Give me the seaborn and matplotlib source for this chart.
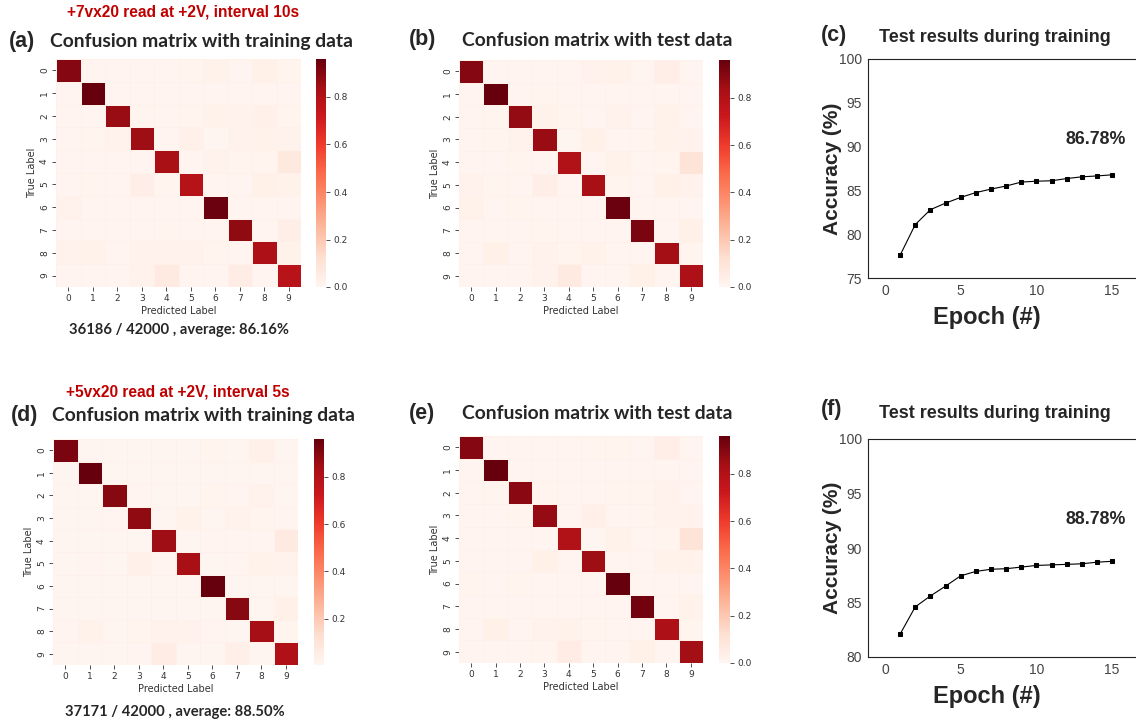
import numpy as np
import pandas as pd
import matplotlib
matplotlib.use("Agg")
import matplotlib.pyplot as plt
import seaborn as sns
from matplotlib.ticker import MultipleLocator

# ---------------- data ----------------
labels = [str(i) for i in range(10)]

# (a) confusion matrix, training data, +7vx20
cm_a = [
    [0.90, 0.005, 0.005, 0.005, 0.005, 0.010, 0.020, 0.005, 0.030, 0.010],
    [0.005, 0.96, 0.005, 0.005, 0.005, 0.005, 0.005, 0.005, 0.005, 0.005],
    [0.005, 0.005, 0.86, 0.010, 0.005, 0.010, 0.020, 0.015, 0.025, 0.010],
    [0.005, 0.010, 0.015, 0.85, 0.005, 0.025, 0.000, 0.015, 0.020, 0.015],
    [0.005, 0.005, 0.005, 0.005, 0.83, 0.005, 0.015, 0.010, 0.010, 0.070],
    [0.005, 0.010, 0.005, 0.040, 0.010, 0.79, 0.005, 0.005, 0.030, 0.020],
    [0.015, 0.005, 0.005, 0.005, 0.005, 0.005, 0.95, 0.005, 0.005, 0.005],
    [0.005, 0.005, 0.005, 0.005, 0.010, 0.005, 0.005, 0.88, 0.005, 0.040],
    [0.015, 0.020, 0.005, 0.015, 0.015, 0.015, 0.010, 0.005, 0.81, 0.020],
    [0.005, 0.005, 0.005, 0.015, 0.060, 0.005, 0.005, 0.050, 0.005, 0.78],
]
# (b) confusion matrix, test data, +7vx20
cm_b = [
    [0.90, 0.005, 0.005, 0.005, 0.005, 0.015, 0.020, 0.005, 0.040, 0.005],
    [0.005, 0.96, 0.005, 0.010, 0.005, 0.005, 0.005, 0.005, 0.005, 0.005],
    [0.005, 0.010, 0.87, 0.020, 0.010, 0.005, 0.015, 0.005, 0.020, 0.005],
    [0.005, 0.010, 0.015, 0.86, 0.000, 0.030, 0.005, 0.010, 0.020, 0.015],
    [0.005, 0.005, 0.010, 0.005, 0.80, 0.005, 0.020, 0.005, 0.010, 0.100],
    [0.015, 0.010, 0.005, 0.040, 0.005, 0.83, 0.010, 0.005, 0.030, 0.015],
    [0.020, 0.005, 0.010, 0.005, 0.005, 0.005, 0.95, 0.005, 0.005, 0.005],
    [0.005, 0.005, 0.005, 0.010, 0.005, 0.005, 0.005, 0.92, 0.005, 0.030],
    [0.005, 0.030, 0.005, 0.015, 0.010, 0.020, 0.005, 0.005, 0.84, 0.010],
    [0.005, 0.005, 0.005, 0.015, 0.060, 0.005, 0.005, 0.030, 0.005, 0.81],
]
# (d) confusion matrix, training data, +5vx20
cm_d = [
    [0.92, 0.005, 0.005, 0.005, 0.005, 0.005, 0.015, 0.005, 0.030, 0.005],
    [0.005, 0.96, 0.005, 0.005, 0.005, 0.005, 0.005, 0.005, 0.005, 0.005],
    [0.005, 0.005, 0.90, 0.010, 0.005, 0.005, 0.015, 0.010, 0.020, 0.005],
    [0.005, 0.005, 0.010, 0.88, 0.005, 0.025, 0.004, 0.020, 0.015, 0.010],
    [0.005, 0.005, 0.005, 0.005, 0.85, 0.005, 0.010, 0.010, 0.010, 0.070],
    [0.005, 0.010, 0.005, 0.030, 0.010, 0.83, 0.005, 0.010, 0.025, 0.020],
    [0.005, 0.005, 0.005, 0.005, 0.005, 0.005, 0.96, 0.005, 0.005, 0.005],
    [0.005, 0.005, 0.005, 0.005, 0.005, 0.005, 0.005, 0.90, 0.005, 0.035],
    [0.010, 0.025, 0.005, 0.015, 0.020, 0.020, 0.010, 0.005, 0.84, 0.015],
    [0.005, 0.005, 0.005, 0.010, 0.050, 0.005, 0.005, 0.040, 0.005, 0.81],
]
# (e) confusion matrix, test data, +5vx20
cm_e = [
    [0.90, 0.005, 0.005, 0.005, 0.005, 0.010, 0.010, 0.005, 0.040, 0.005],
    [0.005, 0.96, 0.005, 0.005, 0.005, 0.005, 0.005, 0.005, 0.005, 0.005],
    [0.005, 0.010, 0.89, 0.010, 0.005, 0.005, 0.010, 0.010, 0.015, 0.005],
    [0.005, 0.005, 0.010, 0.87, 0.005, 0.035, 0.005, 0.010, 0.015, 0.015],
    [0.005, 0.005, 0.005, 0.005, 0.80, 0.000, 0.020, 0.005, 0.010, 0.100],
    [0.005, 0.005, 0.005, 0.030, 0.005, 0.85, 0.005, 0.005, 0.020, 0.020],
    [0.010, 0.005, 0.010, 0.005, 0.005, 0.005, 0.96, 0.005, 0.005, 0.005],
    [0.005, 0.005, 0.005, 0.005, 0.005, 0.005, 0.005, 0.94, 0.005, 0.020],
    [0.005, 0.030, 0.005, 0.015, 0.020, 0.010, 0.005, 0.005, 0.81, 0.010],
    [0.005, 0.005, 0.005, 0.010, 0.045, 0.005, 0.005, 0.030, 0.005, 0.84],
]

epochs = list(range(1, 16))
acc_c = [77.6, 81.1, 82.8, 83.55, 84.2, 84.75, 85.15, 85.5, 85.95, 86.05,
         86.1, 86.35, 86.55, 86.65, 86.78]
acc_f = [82.1, 84.6, 85.6, 86.5, 87.45, 87.85, 88.05, 88.1, 88.25, 88.4,
         88.45, 88.5, 88.55, 88.7, 88.78]

red_texts = ["+7vx20 read at +2V, interval 10s", "+5vx20 read at +2V, interval 5s"]
summary_texts = ["36186 / 42000 , average: 86.16%", "37171 / 42000 , average: 88.50%"]
final_texts = ["86.78%", "88.78%"]

# ---------------- figure ----------------
sns.set_style("white")
plt.rcParams['font.family'] = ['DejaVu Sans']

W, H = 1136, 725
fig = plt.figure(figsize=(W / 100, H / 100), dpi=100)


def box(x1, y1, x2, y2):
    return [x1 / W, 1 - y2 / H, (x2 - x1) / W, (y2 - y1) / H]


def ftext(x, y, s, **kw):
    fig.text(x / W, 1 - y / H, s, **kw)


TITLE_FONT = ['Lato', 'DejaVu Sans']
ARIAL = ['Liberation Sans', 'DejaVu Sans']


def draw_heat(mat, hbox, cbox):
    ax = fig.add_axes(box(*hbox))
    cax = fig.add_axes(box(*cbox))
    df = pd.DataFrame(mat, index=labels, columns=labels)
    sns.heatmap(df, ax=ax, cbar_ax=cax, cmap="Reds", linewidths=0.6,
                linecolor="#fff0ea")
    ax.set_xlabel("Predicted Label", fontsize=7, color="#333333", labelpad=2)
    ax.set_ylabel("True Label", fontsize=7, color="#333333", labelpad=2)
    ax.tick_params(axis='both', labelsize=6.5, colors="#333333", length=3,
                   width=0.6, pad=2)
    plt.setp(ax.get_yticklabels(), rotation=90, va="center")
    plt.setp(ax.get_xticklabels(), rotation=0)
    ax.tick_params(axis='both', which='both', left=True, bottom=True)
    cax.tick_params(labelsize=6.5, colors="#333333", length=3, width=0.6, pad=2)
    return ax


def draw_line(xs, ys, lbox, ylim):
    ax = fig.add_axes(box(*lbox))
    sns.lineplot(x=xs, y=ys, ax=ax, color="black", linewidth=0.8,
                 marker="s", markersize=2.5, markeredgecolor="black")
    ax.set_xlim(-1.12, 17.5)
    ax.set_ylim(*ylim)
    ax.xaxis.set_major_locator(MultipleLocator(5))
    ax.xaxis.set_minor_locator(MultipleLocator(2.5))
    ax.yaxis.set_major_locator(MultipleLocator(5))
    ax.yaxis.set_minor_locator(MultipleLocator(2.5))
    ax.tick_params(axis='both', which='major', labelsize=10, colors="#444444",
                   direction='out', length=3, width=0.7, pad=1.5)
    ax.tick_params(axis='both', which='minor', direction='out', length=2,
                   width=0.6, colors="#444444")
    for lab in ax.get_xticklabels() + ax.get_yticklabels():
        lab.set_family(ARIAL)
    for s in ['left', 'bottom', 'top']:
        ax.spines[s].set_visible(True)
        ax.spines[s].set_color("#222222")
        ax.spines[s].set_linewidth(0.8)
    ax.spines['right'].set_visible(False)
    hpx = lbox[3] - lbox[1]
    ax.set_xlabel("Epoch (#)", fontsize=17, fontweight='bold', family=ARIAL)
    ax.set_ylabel("Accuracy (%)", fontsize=15, fontweight='bold', family=ARIAL)
    ax.xaxis.set_label_coords((987 - lbox[0]) / (lbox[2] - lbox[0]), -28 / hpx)
    ax.yaxis.set_label_coords(-26 / (lbox[2] - lbox[0]), 0.5)
    return ax


# row 1
draw_heat(cm_a, (56, 59, 301, 287), (316, 59, 326, 287))
draw_heat(cm_b, (459, 60, 703, 287), (719, 60, 730, 287))
draw_line(epochs, acc_c, (868, 59, 1150, 278), (75, 100))
# row 2
draw_heat(cm_d, (53, 439, 298, 665), (314, 439, 324, 665))
draw_heat(cm_e, (459, 436, 703, 663), (719, 436, 730, 663))
draw_line(epochs, acc_f, (868, 439, 1150, 657), (80, 100))

# final accuracy annotations
ftext(1096, 140, final_texts[0], fontsize=12.8, fontweight='bold', family=ARIAL,
      ha='center', va='center')
ftext(1096, 520, final_texts[1], fontsize=12.8, fontweight='bold', family=ARIAL,
      ha='center', va='center')

# red headers
RED = "#c00000"
ftext(183, 12, red_texts[0], fontsize=11.2, fontweight='bold', family=ARIAL,
      color=RED, ha='center', va='center')
ftext(178, 392, red_texts[1], fontsize=11.2, fontweight='bold', family=ARIAL,
      color=RED, ha='center', va='center')

# panel letters
for x, y, s in [(9, 42, "(a)"), (409, 40, "(b)"), (821, 36, "(c)"),
                (11, 416, "(d)"), (409, 413, "(e)"), (821, 410, "(f)")]:
    ftext(x, y, s, fontsize=15.5, fontweight='bold', family=ARIAL,
          ha='left', va='center')

# titles
for x, y, s in [(50, 42, "Confusion matrix with training data"),
                (462, 40, "Confusion matrix with test data"),
                (52, 416, "Confusion matrix with training data"),
                (462, 413, "Confusion matrix with test data")]:
    ftext(x, y, s, fontsize=13.9, fontweight='bold', family=TITLE_FONT,
          ha='left', va='center')
for y in (37, 413):
    ftext(995, y, "Test results during training", fontsize=13,
          fontweight='bold', family=ARIAL, ha='center', va='center')

# summaries
ftext(179, 330, summary_texts[0], fontsize=10.6, fontweight='bold',
      family=TITLE_FONT, ha='center', va='center')
ftext(175, 712, summary_texts[1], fontsize=10.6, fontweight='bold',
      family=TITLE_FONT, ha='center', va='center')

fig.savefig("out.png", dpi=100)
